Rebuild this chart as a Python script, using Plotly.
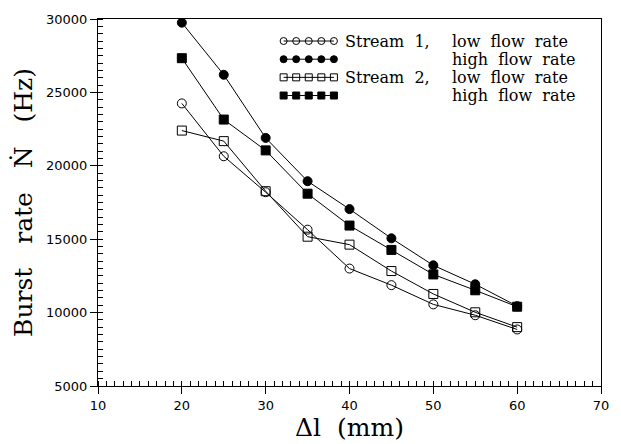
import plotly.graph_objects as go

# Burst rate versus spacing for two streams at two flow rates
dl_mm = [20, 25, 30, 35, 40, 45, 50, 55, 60]
s1_low = [24250, 20650, 18200, 15650, 13000, 11870, 10560, 9820, 8850]
s1_high = [29750, 26200, 21900, 18950, 17050, 15060, 13220, 11930, 10440]
s2_low = [22400, 21680, 18270, 15170, 14630, 12830, 11270, 10020, 9010]
s2_high = [27330, 23150, 21050, 18100, 15930, 14270, 12600, 11520, 10400]

series = [
    ("Stream 1, low flow rate", s1_low, "circle-open"),
    ("Stream 1, high flow rate", s1_high, "circle"),
    ("Stream 2, low flow rate", s2_low, "square-open"),
    ("Stream 2, high flow rate", s2_high, "square"),
]

NB = "\u00a0"


def spaced(text, n=2):
    # widen the gaps between words with non-breaking spaces
    return (NB * n).join(text.split(" "))


fig = go.Figure()
for name, vals, sym in series:
    fig.add_trace(go.Scatter(
        x=dl_mm, y=vals, mode="lines+markers", name=name,
        line=dict(color="black", width=1),
        marker=dict(symbol=sym, size=9, color="black",
                    line=dict(color="black", width=1)),
        showlegend=False,
    ))

# Hand-built key: a row of five joined markers per entry, drawn on an overlay axis
key_x = [0.369, 0.394, 0.419, 0.444, 0.469]
key_rows = [0.94, 0.8905, 0.841, 0.7915]
for (name, vals, sym), ky in zip(series, key_rows):
    fig.add_trace(go.Scatter(
        x=key_x, y=[ky] * len(key_x), xaxis="x2", yaxis="y2",
        mode="lines+markers", line=dict(color="black", width=1),
        marker=dict(symbol=sym, size=7, color="black",
                    line=dict(color="black", width=1)),
        showlegend=False, hoverinfo="skip",
    ))

key_font = dict(family="DejaVu Serif", size=16, color="black")
key_text = [
    (0.487, key_rows[0], "Stream 1,"),
    (0.700, key_rows[0], "low flow rate"),
    (0.700, key_rows[1], "high flow rate"),
    (0.487, key_rows[2], "Stream 2,"),
    (0.700, key_rows[2], "low flow rate"),
    (0.700, key_rows[3], "high flow rate"),
]
annotations = [
    dict(x=tx, y=ty, xref="x2", yref="y2", text=spaced(t), showarrow=False,
         xanchor="left", yanchor="middle", font=key_font)
    for tx, ty, t in key_text
]

tick_font = dict(family="DejaVu Sans", size=13, color="black")

fig.update_layout(
    width=621, height=444,
    margin=dict(l=98, r=14, t=17, b=47),
    paper_bgcolor="white", plot_bgcolor="white",
    annotations=annotations,
    xaxis=dict(
        range=[10, 70], dtick=10, tick0=10,
        showline=True, linecolor="black", linewidth=1, mirror=True,
        ticks="outside", ticklen=7, tickcolor="black",
        minor=dict(dtick=1, ticks="inside", ticklen=5, tickcolor="black"),
        showgrid=False, zeroline=False, tickfont=tick_font,
        title=dict(text=spaced("\u0394l (mm)"),
                   font=dict(family="DejaVu Serif", size=25, color="black"),
                   standoff=2),
    ),
    yaxis=dict(
        range=[5000, 30000], dtick=5000, tick0=5000, tickformat="d",
        showline=True, linecolor="black", linewidth=1, mirror=True,
        ticks="outside", ticklen=7, tickcolor="black",
        minor=dict(dtick=500, ticks="inside", ticklen=5, tickcolor="black"),
        showgrid=False, zeroline=False, tickfont=tick_font,
        title=dict(text=spaced("Burst rate \u1e44 (Hz)", 3),
                   font=dict(family="DejaVu Serif", size=25, color="black"),
                   standoff=6),
    ),
    xaxis2=dict(overlaying="x", range=[0, 1], visible=False, fixedrange=True),
    yaxis2=dict(overlaying="y", range=[0, 1], visible=False, fixedrange=True),
)

fig.write_html("out.html")
